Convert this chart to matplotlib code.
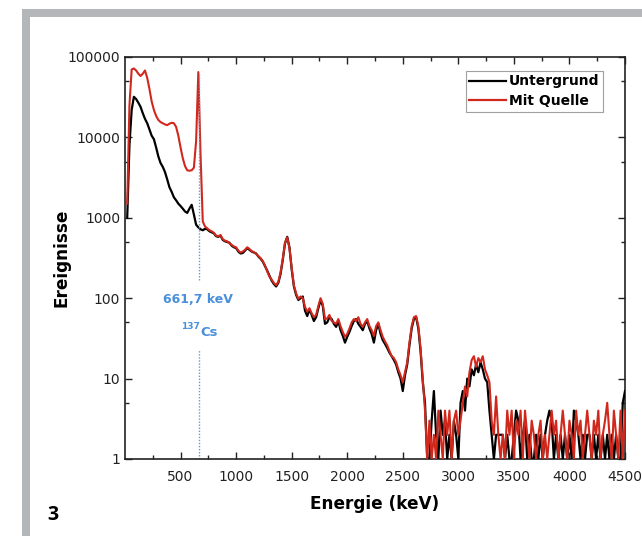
import numpy as np
import matplotlib
matplotlib.use("Agg")
import matplotlib.pyplot as plt
from matplotlib.ticker import FixedLocator, NullFormatter
from matplotlib.patches import Rectangle

# ---------------- data (counts per 20 keV bin, starting at 20 keV) ----------------
bin_width_kev = 20
untergrund = [
    1000, 8000, 22000, 32000, 30000, 27000, 24000, 20000, 17000, 15000,
    12500, 10500, 9500, 7500, 5800, 4800, 4300, 3700, 3000, 2400,
    2100, 1800, 1650, 1500, 1400, 1300, 1200, 1150, 1300, 1450,
    1100, 820, 760, 720, 700, 730, 720, 680, 660, 640,
    590, 580, 600, 530, 510, 500, 490, 450, 430, 420,
    380, 360, 365, 390, 420, 400, 380, 370, 360, 330,
    310, 285, 250, 220, 190, 165, 150, 140, 155, 200,
    300, 480, 580, 430, 230, 140, 110, 95, 100, 105,
    70, 60, 72, 62, 52, 58, 75, 95, 80, 48,
    50, 58, 55, 48, 44, 52, 40, 34, 28, 33,
    38, 45, 52, 55, 48, 44, 40, 48, 52, 42,
    36, 28, 40, 48, 36, 30, 27, 24, 21, 19,
    17, 15, 12, 10, 7, 11, 15, 26, 42, 55,
    58, 42, 22, 9, 5, 1,
    1, 3, 7, 2, 1, 4, 2, 3, 1, 2,
    1, 3, 2, 1, 5, 7, 4, 10, 8, 13,
    11, 15, 12, 16, 13, 10, 9, 4, 2, 1,
    2, 2, 2, 2, 1, 2, 1, 1, 2, 4,
    3, 1, 2, 3, 1, 2, 1, 1, 2, 1,
    2, 1, 2, 3, 4, 3, 1, 2, 1, 2,
    1, 2, 1, 2, 1, 4, 3, 2, 1, 2,
    1, 2, 2, 1, 2, 1, 2, 1, 2, 1,
    2, 1, 2, 1, 2, 1, 1, 5, 7,
]
mit_quelle = [
    1500, 25000, 70000, 72000, 68000, 62000, 58000, 62000, 68000, 55000,
    40000, 28000, 22000, 18500, 16500, 15500, 15000, 14500, 14200, 14800,
    15200, 15000, 13500, 10500, 7500, 5500, 4400, 3900, 3850, 3900,
    4200, 9000, 65000, 6000, 900, 780, 740, 700, 680, 650,
    600, 590, 610, 540, 520, 510, 480, 460, 440, 430,
    390, 370, 380, 400, 430, 410, 385, 375, 355, 335,
    315, 290, 255, 215, 185, 170, 155, 145, 160, 210,
    310, 490, 570, 420, 240, 145, 115, 98, 105, 100,
    78, 68, 75, 65, 58, 62, 80, 100, 85, 55,
    56, 62, 52, 50, 48, 55, 45, 38, 33, 36,
    42, 50, 55, 52, 58, 48, 44, 50, 55, 45,
    40, 34, 45, 50, 40, 33, 29, 26, 22, 19,
    18, 16, 13, 11, 9, 12, 16, 28, 45, 58,
    60, 45, 24, 10, 4, 1,
    3, 1, 2, 1, 4, 2, 1, 4, 2, 4,
    1, 3, 4, 2, 3, 5, 8, 6, 12, 17,
    19, 14, 18, 16, 19, 13, 11, 9, 3, 2,
    6, 2, 1, 2, 1, 4, 2, 4, 1, 3,
    2, 4, 1, 4, 2, 1, 3, 2, 1, 2,
    3, 1, 2, 1, 2, 4, 2, 3, 1, 2,
    4, 2, 1, 3, 2, 1, 4, 2, 3, 1,
    2, 4, 2, 1, 3, 2, 4, 1, 2, 3,
    5, 2, 1, 4, 2, 1, 4, 1, 4,
]
series_labels = ["Untergrund", "Mit Quelle"]
cs_energy = 661.7
annotation_energy_text = "661,7 keV"
xtick_values = [500, 1000, 1500, 2000, 2500, 3000, 3500, 4000, 4500]
ytick_values = [1, 10, 100, 1000, 10000, 100000]

e_black = bin_width_kev * (np.arange(len(untergrund)) + 1)
e_red = bin_width_kev * (np.arange(len(mit_quelle)) + 1)

# ---------------- figure ----------------
plt.rcParams['font.family'] = ['DejaVu Sans']
fig = plt.figure(figsize=(6.42, 5.36), dpi=100)
W, H = 642, 536

# grey frame (left and top bars)
fig.patches.append(Rectangle((22 / W, 0), 8 / W, 1 - 9 / H, transform=fig.transFigure,
                             facecolor='#b4b7ba', edgecolor='none'))
fig.patches.append(Rectangle((22 / W, 1 - 17 / H), 1 - 22 / W, 8 / H, transform=fig.transFigure,
                             facecolor='#b4b7ba', edgecolor='none'))

ax = fig.add_axes([125 / W, 1 - 459 / H, 500 / W, 402 / H])
ax.set_yscale('log')

red = '#d0281c'
ax.plot(e_black, untergrund, color='black', lw=1.6, label=series_labels[0], zorder=3)
ax.plot(e_red, mit_quelle, color=red, lw=1.5, label=series_labels[1], zorder=4)

ax.set_xlim(0, 4500)
ax.set_ylim(1, 100000)

# Cs-137 marker line with gap for text
blue_line = '#5b9be6'
ax.plot([cs_energy, cs_energy], [1, 23], color=blue_line, lw=1.0, ls=(0, (1, 1.2)), zorder=2)
ax.plot([cs_energy, cs_energy], [170, 62000], color=blue_line, lw=1.0, ls=(0, (1, 1.2)), zorder=5)
blue_text = '#4a8fdb'
ax.text(657, 95, annotation_energy_text, color=blue_text, fontsize=9, fontweight='bold',
        ha='center', va='center')
ax.text(677, 37, "Cs", color=blue_text, fontsize=9.5, fontweight='bold', ha='left', va='center')
ax.text(674, 45, "137", color=blue_text, fontsize=6.5, fontweight='bold', ha='right', va='center')

# ticks
ax.xaxis.set_major_locator(FixedLocator(xtick_values))
ax.xaxis.set_minor_locator(FixedLocator(np.arange(250, 4500, 500)))
ax.set_xticklabels([str(v) for v in xtick_values])
ax.yaxis.set_major_locator(FixedLocator(ytick_values))
ax.yaxis.set_minor_locator(FixedLocator([5 * v for v in ytick_values[:-1]]))
ax.set_yticklabels([str(v) for v in ytick_values])
ax.yaxis.set_minor_formatter(NullFormatter())
ax.tick_params(which='both', direction='in', top=True, right=True, colors='#222222',
               labelcolor='#222222', labelsize=10, width=1.0)
ax.tick_params(which='major', length=5)
ax.tick_params(which='minor', length=3)
ax.tick_params(axis='x', which='major', pad=8)
for s in ax.spines.values():
    s.set_linewidth(1.2)
    s.set_color('#222222')

ax.set_xlabel("Energie (keV)", fontsize=12.2, fontweight='bold', labelpad=8)
ax.set_ylabel("Ereignisse", fontsize=12.2, fontweight='bold', labelpad=-2)

leg = ax.legend(loc='upper right', bbox_to_anchor=(603 / W, 1 - 71 / H), bbox_transform=fig.transFigure,
                prop={'weight': 'bold', 'size': 10}, frameon=True, fancybox=False,
                handlelength=2.6, handletextpad=0.25, borderpad=0.25, labelspacing=0.4,
                borderaxespad=0)
leg.get_frame().set_edgecolor('#888888')
leg.get_frame().set_linewidth(0.8)
for l in leg.get_lines():
    l.set_linewidth(1.6)

fig.text(47 / W, 1 - 515 / H, "3", fontsize=14, fontweight='bold', family=['Open Sans', 'DejaVu Sans'],
         va='center', ha='left')

fig.savefig("out.png", dpi=100)
